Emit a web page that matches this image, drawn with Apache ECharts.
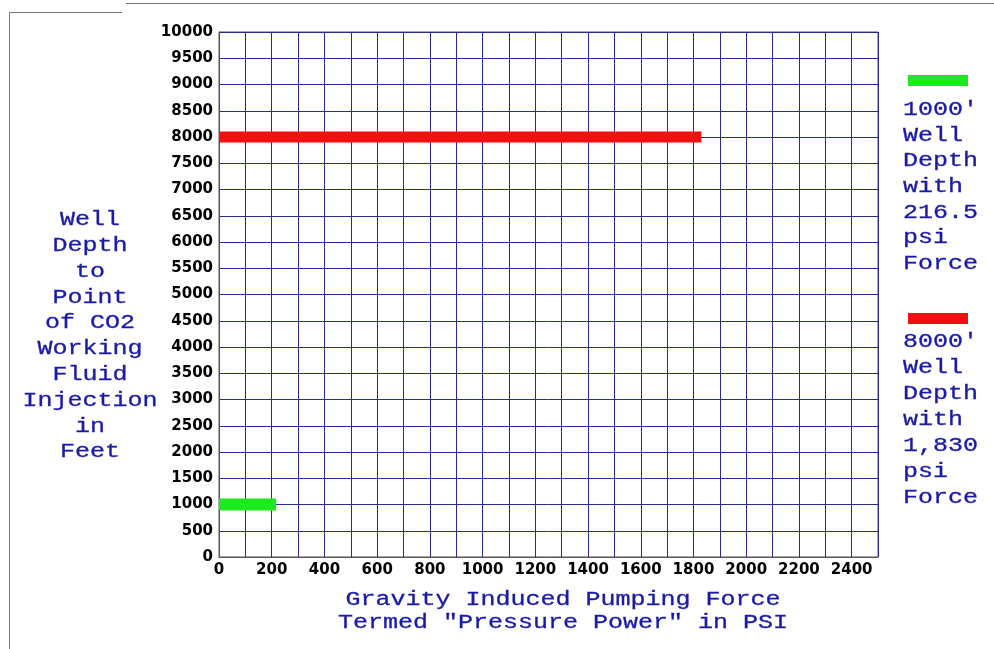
<!DOCTYPE html>
<html>
<head>
<meta charset="utf-8">
<title>Pressure Power</title>
<script src="https://cdn.jsdelivr.net/npm/echarts@6/dist/echarts.min.js"></script>
<style>
    html, body { margin: 0; padding: 0; background: #fff; }
    #chart { width: 994px; height: 649px; }
</style>
</head>
<body>
<div id="chart"></div>
<script>
    // values
    var depthFeet = [1000, 8000];
    var forcePsi = [216.5, 1830];
    var barColors = ['#1ee81e', '#f01010'];
    var legendLines = [
        ["1000'", 'Well', 'Depth', 'with', '216.5', 'psi', 'Force'],
        ["8000'", 'Well', 'Depth', 'with', '1,830', 'psi', 'Force']
    ];
    var yTitleLines = ['Well', 'Depth', 'to', 'Point', 'of CO2', 'Working', 'Fluid', 'Injection', 'in', 'Feet'];
    var xTitleLines = ['Gravity Induced Pumping Force', 'Termed "Pressure Power" in PSI'];
    var xMax = 2500, xStep = 100, xLabelStep = 200;
    var yMax = 10000, yStep = 500;

    var blue = '#1a1aa8';
    var mono = '"Liberation Mono", "DejaVu Sans Mono", monospace';
    var tickFont = '"DejaVu Sans", sans-serif';

    var myChart = echarts.init(document.getElementById('chart'));

    var series = depthFeet.map(function (d, i) {
        return {
            name: legendLines[i].join(' '),
            type: 'line',
            data: [[0, d], [forcePsi[i], d]],
            symbol: 'none',
            lineStyle: { color: barColors[i], width: i === 0 ? 12 : 11, cap: 'butt' },
            itemStyle: { color: barColors[i] },
            z: 5
        };
    });

    // text blocks, stretched a bit wider like the original
    function textBlock(lines, x, y, gap, align) {
        return lines.map(function (t, k) {
            return {
                type: 'text',
                x: x, y: y + k * gap,
                scaleX: 1.25,
                style: {
                    text: t,
                    fill: blue,
                    font: '20px ' + mono,
                    align: align,
                    verticalAlign: 'middle',
                    stroke: blue,
                    lineWidth: 0.3
                }
            };
        });
    }

    var graphics = []
        .concat(textBlock(yTitleLines, 90, 220, 25.8, 'center'))
        .concat(textBlock(xTitleLines, 563, 600, 23, 'center'))
        .concat(textBlock(legendLines[0], 903, 110, 25.6, 'left'))
        .concat(textBlock(legendLines[1], 903, 342, 26, 'left'));

    // page frame
    graphics.push(
        { type: 'line', shape: { x1: 9.5, y1: 12.5, x2: 9.5, y2: 649 }, style: { stroke: '#777', lineWidth: 1 } },
        { type: 'line', shape: { x1: 9.5, y1: 12.5, x2: 122, y2: 12.5 }, style: { stroke: '#777', lineWidth: 1 } },
        { type: 'line', shape: { x1: 126, y1: 3.5, x2: 994, y2: 3.5 }, style: { stroke: '#777', lineWidth: 1 } }
    );

    var option = {
        animation: false,
        backgroundColor: '#fff',
        grid: {
            left: 219, right: 116, top: 32, bottom: 92,
            show: true, borderColor: '#555', borderWidth: 1
        },
        legend: {
            orient: 'vertical',
            left: 908, top: 75,
            padding: 0,
            itemGap: 227,
            itemWidth: 60, itemHeight: 11,
            icon: 'rect',
            formatter: function () { return ''; },
            selectedMode: false,
            data: series.map(function (s) { return s.name; })
        },
        xAxis: {
            type: 'value',
            min: 0, max: xMax, interval: xStep,
            axisLine: { lineStyle: { color: '#555' } },
            axisTick: { show: false },
            splitLine: { lineStyle: { color: '#2a2a8c', width: 1 } },
            axisLabel: {
                margin: 6,
                color: '#000',
                fontFamily: tickFont,
                fontWeight: 'bold',
                fontSize: 15,
                formatter: function (v) {
                    return (v % xLabelStep === 0 && v < xMax) ? String(v) : '';
                }
            }
        },
        yAxis: {
            type: 'value',
            min: 0, max: yMax, interval: yStep,
            axisLine: { show: true, lineStyle: { color: '#555' } },
            axisTick: { show: false },
            splitLine: { lineStyle: { color: '#2a2a8c', width: 1 } },
            axisLabel: {
                margin: 6,
                color: '#000',
                fontFamily: tickFont,
                fontWeight: 'bold',
                fontSize: 15,
                formatter: function (v) { return String(v); }
            }
        },
        graphic: graphics,
        series: series
    };
    myChart.setOption(option);
</script>
</body>
</html>
